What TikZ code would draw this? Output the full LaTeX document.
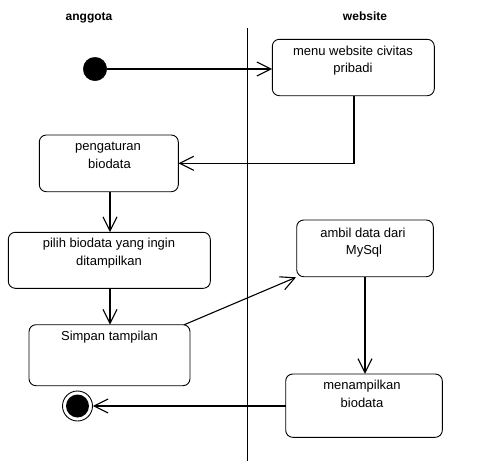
\documentclass[tikz,border=0pt]{standalone}
\usepackage{fontspec}
\setmainfont{Liberation Sans}
\usetikzlibrary{arrows.meta}
\begin{document}
\begin{tikzpicture}[x=1pt,y=-1pt,
  act/.style={draw,line width=0.9pt,rounded corners=7pt,inner sep=0pt},
  txt/.style={anchor=base,inner sep=0pt,font=\fontsize{13}{15}\selectfont},
  hdr/.style={anchor=base,inner sep=0pt,font=\fontsize{12}{14}\selectfont\bfseries},
  flow/.style={line width=1.1pt,-{Straight Barb[length=14pt,width=14pt,line width=1.1pt]}},
  plain/.style={line width=1.1pt}]
\useasboundingbox (0,0) rectangle (477,461);
% headers
\node[hdr] (h1) at (89,20) {anggota};
\node[hdr] (h2) at (365,20) {website};
% swimlane divider
\coordinate (lt) at (247.3,28);
\coordinate (lb) at (247.3,461);
\draw[line width=0.9pt] (lt) -- (lb);
% start / end
\node[circle,fill=black,draw,minimum size=23.5pt,inner sep=0pt] (start) at (95,69) {};
\node[circle,draw,line width=0.9pt,minimum size=30pt,inner sep=0pt] (end) at (77.5,406) {};
\node[circle,fill=black,minimum size=23pt,inner sep=0pt] (endin) at (77.5,406) {};
% activity boxes
\draw[act] (272.3,39.3) rectangle (434.3,95.7);
\node[inner sep=0pt,minimum width=162pt,minimum height=56.4pt] (b1) at (353.3,67.5) {};
\draw[act] (39.3,135) rectangle (178.3,191.7);
\node[inner sep=0pt,minimum width=139pt,minimum height=56.7pt] (b2) at (108.8,163.35) {};
\draw[act] (8.3,232.3) rectangle (210.3,288.3);
\node[inner sep=0pt,minimum width=202pt,minimum height=56pt] (b3) at (109.3,260.3) {};
\draw[act] (29,324.7) rectangle (190,385.7);
\node[inner sep=0pt,minimum width=161pt,minimum height=61pt] (b4) at (109.5,355.2) {};
\draw[act] (296.7,220) rectangle (433.3,276.7);
\node[inner sep=0pt,minimum width=136.6pt,minimum height=56.7pt] (b5) at (365,248.35) {};
\draw[act] (285.7,374) rectangle (442.3,437.3);
\node[inner sep=0pt,minimum width=156.6pt,minimum height=63.3pt] (b6) at (364,405.65) {};
% texts
\node[txt] (t1a) at (353,55) {menu website civitas};
\node[txt] (t1b) at (353,72.5) {pribadi};
\node[txt] (t2a) at (108,150) {pengaturan};
\node[txt] (t2b) at (109.5,168) {biodata};
\node[txt] (t3a) at (109,247) {pilih biodata yang ingin};
\node[txt] (t3b) at (109,265) {ditampilkan};
\node[txt] (t4a) at (109.5,340) {Simpan tampilan};
\node[txt] (t5a) at (363,237) {ambil data dari};
\node[txt] (t5b) at (364,254) {MySql};
\node[txt] (t6a) at (362,389) {menampilkan};
\node[txt] (t6b) at (362,407) {biodata};
% connectors
\draw[flow] (start.east) -- (b1.west |- start.east);
\coordinate (c1) at (354,163.3);
\draw[flow] (b1.south -| c1) -- (c1) -- (b2.east |- c1);
\draw[flow] (b2.south -| 110,0) -- (b3.north -| 110,0);
\draw[flow] (b3.south -| 110,0) -- (b4.north -| 110,0);
\coordinate (d1) at (184.3,324.7);
\coordinate (d2) at (296,277.3);
\draw[flow] (d1) -- (d2);
\draw[flow] (b5.south -| 365,0) -- (b6.north -| 365,0);
\draw[flow] (b6.west |- end) -- (end.east);
\end{tikzpicture}
\end{document}
